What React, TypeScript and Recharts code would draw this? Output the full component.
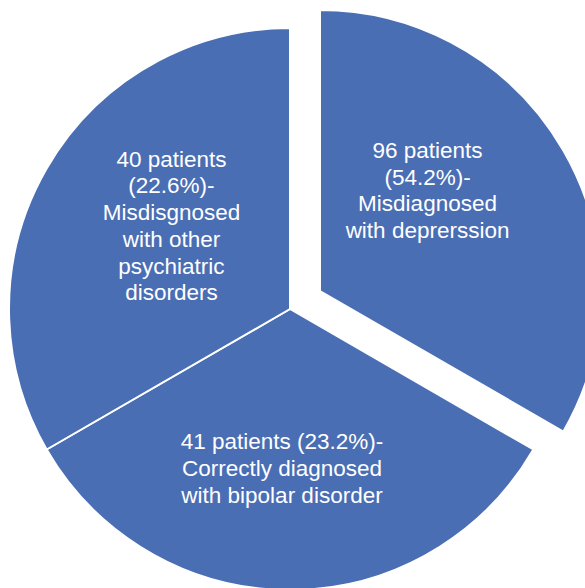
import React from 'react';
import { PieChart, Pie, Cell } from 'recharts';

// Slice sizes (degrees of arc, clockwise from 12 o'clock)
const sliceNames = ['depression', 'bipolar', 'other'];
const sliceAngles = [120, 120, 120];

// Label text for each slice (lines)
const sliceLabels: string[][] = [
  ['96 patients', '(54.2%)-', 'Misdiagnosed', 'with deprerssion'],
  ['41 patients (23.2%)-', 'Correctly diagnosed', 'with bipolar disorder'],
  ['40 patients', '(22.6%)-', 'Misdisgnosed', 'with other', 'psychiatric', 'disorders'],
];

const explodedIndex = 0;

const data = sliceNames.map((name, i) => ({ name, value: sliceAngles[i] }));

// Style / layout config (kept separate from data)
const BLUE = '#4A6EB4';
const FONT = '"Liberation Sans", Arial, Helvetica, sans-serif';
const FONT_SIZE = 22.5;
const LINE_H = 26.7;
const LABEL_RADIUS_RATIO = 0.52;
const LABEL_NUDGE: [number, number][] = [
  [-19, -28],
  [-8, 13],
  [8, -10.5],
];

const RAD = Math.PI / 180;

function renderLabelFor(showIndex: (i: number) => boolean) {
  return (props: any) => {
    const { cx, cy, midAngle, outerRadius, index } = props;
    if (!showIndex(index)) return null;
    const r = outerRadius * LABEL_RADIUS_RATIO;
    const [nx, ny] = LABEL_NUDGE[index];
    const bx = cx + r * Math.cos(-midAngle * RAD) + nx;
    const by = cy + r * Math.sin(-midAngle * RAD) + ny;
    const lines = sliceLabels[index];
    const capHalf = FONT_SIZE * 0.716 / 2;
    const firstBaseline = by - ((lines.length - 1) * LINE_H) / 2 + capHalf;
    return (
      <text
        key={`lbl-${index}`}
        x={bx}
        y={firstBaseline}
        textAnchor="middle"
        fill="#ffffff"
        fontFamily={FONT}
        fontSize={FONT_SIZE}
      >
        {lines.map((ln, j) => (
          <tspan key={j} x={bx} y={firstBaseline + j * LINE_H}>
            {ln}
          </tspan>
        ))}
      </text>
    );
  };
}

export default function App() {
  return (
    <div style={{ position: 'absolute', left: 0, top: 0, width: 585, height: 588, background: '#fff', overflow: 'hidden' }}>
      <PieChart width={585} height={588} margin={{ top: 0, right: 0, bottom: 0, left: 0 }}>
        <Pie
          data={data}
          dataKey="value"
          cx={290}
          cy={309}
          outerRadius={281}
          startAngle={90}
          endAngle={-270}
          stroke="#ffffff"
          strokeWidth={2}
          labelLine={false}
          label={renderLabelFor((i) => i !== explodedIndex)}
          isAnimationActive={false}
        >
          {data.map((d, i) => (
            <Cell
              key={d.name}
              fill={i === explodedIndex ? 'none' : BLUE}
              stroke={i === explodedIndex ? 'none' : '#ffffff'}
            />
          ))}
        </Pie>
        <Pie
          data={data}
          dataKey="value"
          cx={320}
          cy={291}
          outerRadius={281}
          startAngle={90}
          endAngle={-270}
          stroke="#ffffff"
          strokeWidth={2}
          labelLine={false}
          label={renderLabelFor((i) => i === explodedIndex)}
          isAnimationActive={false}
        >
          {data.map((d, i) => (
            <Cell
              key={d.name}
              fill={i === explodedIndex ? BLUE : 'none'}
              stroke={i === explodedIndex ? '#ffffff' : 'none'}
            />
          ))}
        </Pie>
      </PieChart>
    </div>
  );
}
